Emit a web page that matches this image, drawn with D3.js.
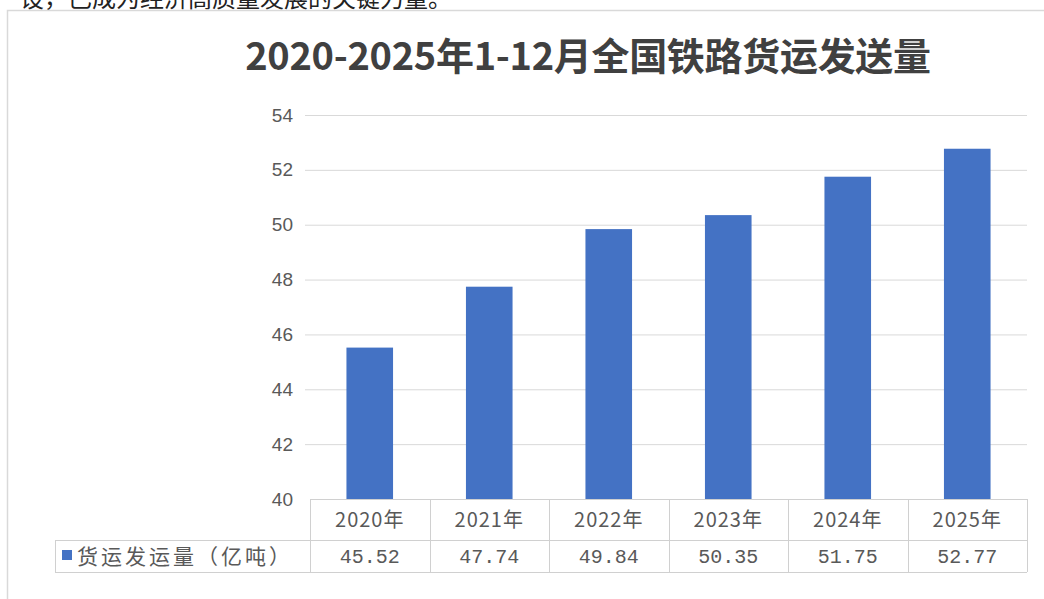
<!DOCTYPE html>
<html><head><meta charset="utf-8">
<script src="https://cdn.jsdelivr.net/npm/d3@7"></script>
<style>
html,body{margin:0;padding:0;background:#fff;}
svg{display:block;}
</style></head>
<body>
<svg id="c" width="1044" height="599"></svg>
<script>
const categories = ["2020年","2021年","2022年","2023年","2024年","2025年"];
const values = [45.52, 47.74, 49.84, 50.35, 51.75, 52.77];
const valueLabels = ["45.52","47.74","49.84","50.35","51.75","52.77"];
const yTicks = [40,42,44,46,48,50,52,54];
const seriesName = "货运发运量（亿吨）";
const titleText = "2020-2025年1-12月全国铁路货运发送量";
const topText = "…设，已成为经济高质量发展的关键力量。";

const svg = d3.select("#c");
const cjk = "'Noto Sans CJK SC','Noto Sans',sans-serif";

// cropped article text at top (partially visible, as in the reference)
svg.append("text").attr("x",-4).attr("y",7).attr("font-family",cjk)
  .attr("font-size",24).attr("fill","#222").text(topText);

// chart box
svg.append("rect").attr("x",7.5).attr("y",10.5).attr("width",1060).attr("height",620)
  .attr("fill","#fff").attr("stroke","#d9d9d9").attr("stroke-width",1.5);

// title
svg.append("text").attr("x",588).attr("y",70).attr("text-anchor","middle")
  .attr("font-family",cjk).attr("font-weight","bold").attr("font-size",38)
  .attr("fill","#404040").attr("letter-spacing",-0.3).text(titleText);

const x = d3.scaleBand().domain(categories).range([310,1027]).paddingInner(0.61).paddingOuter(0.305);
const xc = d3.scaleBand().domain(categories).range([310,1027]);
const y = d3.scaleLinear().domain([40,54]).range([499,115]);

// gridlines
svg.append("g").selectAll("line").data(yTicks.filter(d=>d>40)).join("line")
  .attr("x1",305).attr("x2",1027).attr("y1",d=>y(d)+0.5).attr("y2",d=>y(d)+0.5)
  .attr("stroke","#d9d9d9").attr("stroke-width",1);

// y axis labels
const yAxis = d3.axisLeft(y).tickValues(yTicks).tickSize(0).tickPadding(0);
const ya = svg.append("g").attr("transform","translate(293,0)").call(yAxis);
ya.select(".domain").remove();
ya.selectAll("text").attr("font-family","'Liberation Sans',sans-serif").attr("font-size",19).attr("fill","#595959");

// bars
svg.append("g").selectAll("rect").data(values).join("rect")
  .attr("x",(d,i)=>x(categories[i])).attr("width",x.bandwidth())
  .attr("y",d=>y(d)).attr("height",d=>y(40)-y(d)).attr("fill","#4472C4");

// data table
const tg = svg.append("g").attr("stroke","#d0d0d0").attr("stroke-width",1).attr("fill","none");
const rowTop = 499, rowMid = 540, rowBot = 572, legL = 55;
tg.append("line").attr("x1",310).attr("x2",1027).attr("y1",rowTop+0.5).attr("y2",rowTop+0.5);
tg.append("line").attr("x1",legL).attr("x2",1027).attr("y1",rowMid+0.5).attr("y2",rowMid+0.5);
tg.append("line").attr("x1",legL).attr("x2",1027).attr("y1",rowBot+0.5).attr("y2",rowBot+0.5);
tg.append("line").attr("x1",legL+0.5).attr("x2",legL+0.5).attr("y1",rowMid).attr("y2",rowBot);
const edges = categories.map(c=>xc(c)).concat([1027]);
tg.selectAll("line.v").data(edges).join("line").attr("class","v")
  .attr("x1",d=>Math.round(d)+0.5).attr("x2",d=>Math.round(d)+0.5).attr("y1",rowTop).attr("y2",rowBot);

svg.append("g").selectAll("text").data(categories).join("text")
  .attr("x",d=>xc(d)+xc.bandwidth()/2).attr("y",527).attr("text-anchor","middle")
  .attr("font-family",cjk).attr("font-size",20).attr("letter-spacing",1).attr("fill","#595959").text(d=>d);
svg.append("g").selectAll("text").data(valueLabels).join("text")
  .attr("x",(d,i)=>xc(categories[i])+xc.bandwidth()/2).attr("y",563).attr("text-anchor","middle")
  .attr("font-family","'Liberation Mono',monospace").attr("font-size",20).attr("fill","#595959").text(d=>d);

// legend
svg.append("rect").attr("x",62).attr("y",550).attr("width",10).attr("height",10).attr("fill","#4472C4");
svg.append("text").attr("x",77).attr("y",564).attr("font-family",cjk).attr("font-size",21)
  .attr("letter-spacing",3).attr("fill","#595959").text(seriesName);
</script>
</body></html>
